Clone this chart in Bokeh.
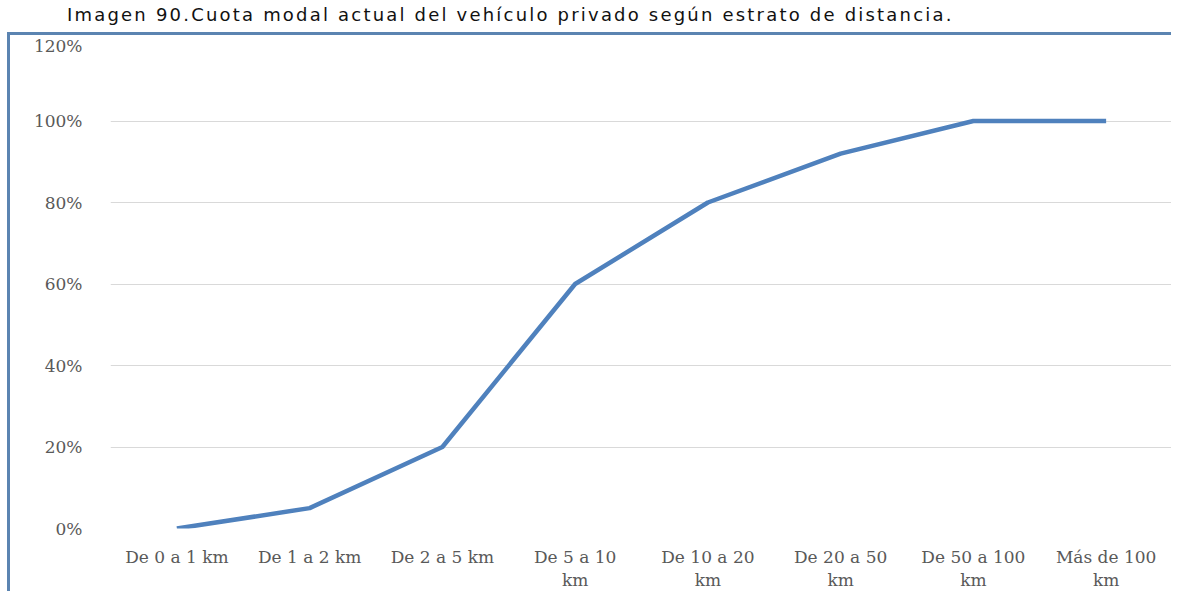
from bokeh.plotting import figure
from bokeh.models import FixedTicker, NumeralTickFormatter, Range1d, Div, ColumnDataSource
from bokeh.layouts import column
from bokeh.embed import file_html
from bokeh.resources import INLINE

title_text = "Imagen 90.Cuota modal actual del vehículo privado según estrato de distancia."
categories = ["De 0 a 1 km", "De 1 a 2 km", "De 2 a 5 km", "De 5 a 10\nkm",
              "De 10 a 20\nkm", "De 20 a 50\nkm", "De 50 a 100\nkm", "Más de 100\nkm"]
shares = [0.0, 0.05, 0.20, 0.60, 0.80, 0.92, 1.00, 1.00]
y_ticks = [0.0, 0.2, 0.4, 0.6, 0.8, 1.0, 1.2]

xs = list(range(len(categories)))
src = ColumnDataSource(dict(x=xs, y=shares))

p = figure(width=1164, height=559, output_backend="svg", toolbar_location=None,
           x_range=Range1d(-0.5, len(categories) - 0.5), y_range=Range1d(0, 1.2),
           min_border_left=100, min_border_right=2, min_border_top=4, min_border_bottom=66)
p.line("x", "y", source=src, line_color="#4F81BD", line_width=4.5)

p.xaxis.ticker = FixedTicker(ticks=xs)
p.xaxis.major_label_overrides = {i: c for i, c in enumerate(categories)}
p.yaxis.ticker = FixedTicker(ticks=y_ticks)
p.yaxis.formatter = NumeralTickFormatter(format="0%")
for ax in (p.xaxis, p.yaxis):
    ax.axis_line_color = None
    ax.major_tick_line_color = None
    ax.minor_tick_line_color = None
    ax.major_label_text_font = "DejaVu Serif"
    ax.major_label_text_color = "#595959"
p.xaxis.major_label_text_font_size = "17px"
p.yaxis.major_label_text_font_size = "17px"
p.xaxis.major_label_text_line_height = 1.15
p.xaxis.major_label_standoff = 12
p.yaxis.major_label_standoff = 22
p.xgrid.grid_line_color = None
p.ygrid.grid_line_color = "#D9D9D9"
p.outline_line_color = None
p.background_fill_color = "white"
p.border_fill_color = "white"
p.styles = {"border-top": "3px solid #5B84B1", "border-left": "3px solid #5B84B1"}
p.margin = (0, 0, 0, 7)

title = Div(text=title_text, width=1100, height=22,
            styles={"font-family": "DejaVu Sans", "font-size": "18px", "color": "#111111",
                    "padding-left": "62px", "line-height": "20px", "letter-spacing": "2.2px"})

layout = column(title, p, spacing=0)
open("out.html", "w").write(file_html(layout, INLINE))
